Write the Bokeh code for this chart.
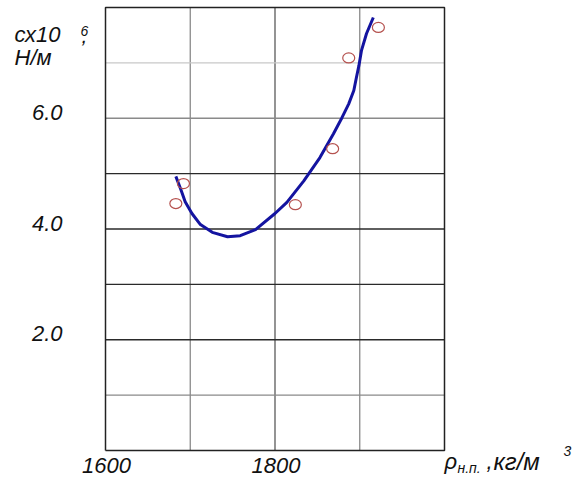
from bokeh.plotting import figure
from bokeh.models import Range1d
from bokeh.core.properties import value
from bokeh.embed import file_html
from bokeh.resources import INLINE

# ---- data ----
point_x = [1683, 1692, 1824, 1868, 1887, 1922]
point_y = [4.46, 4.82, 4.44, 5.45, 7.09, 7.64]

curve_x = [1683, 1689, 1694, 1702, 1712, 1726, 1744, 1759, 1777, 1800, 1814,
           1834, 1853, 1869, 1879, 1887, 1893, 1896, 1899, 1902, 1908, 1916]
curve_y = [4.95, 4.71, 4.49, 4.28, 4.08, 3.94, 3.86, 3.88, 3.99, 4.28, 4.48,
           4.87, 5.29, 5.72, 6.01, 6.26, 6.50, 6.73, 6.95, 7.22, 7.53, 7.82]

x_lim = [1600, 2000]
y_lim = [0, 8]
x_ticks = [1600, 1800]
x_tick_labels = ["1600", "1800"]
y_ticks = [2, 4, 6]
y_tick_labels = ["2.0", "4.0", "6.0"]

x_grid = [1700, 1800, 1900]
x_grid_colors = ["#8a8a8a", "#5a5a5a", "#8a8a8a"]
y_grid = [1, 2, 3, 4, 5, 6, 7]
y_grid_colors = ["#8a8a8a", "#2a2a2a", "#2a2a2a", "#2a2a2a", "#2a2a2a", "#8a8a8a", "#c8c8c8"]

FONT = value("Liberation Sans")
W, H = 572, 480

# the data box occupies px 105..444 horizontally and 7..450 vertically
kx = (444 - 105) / (x_lim[1] - x_lim[0])
ky = (450 - 7) / (y_lim[1] - y_lim[0])
xr = Range1d(x_lim[0] - 105 / kx, x_lim[1] + (W - 444) / kx)
yr = Range1d(y_lim[0] - (H - 450) / ky, y_lim[1] + 7 / ky)

p = figure(width=W, height=H, x_range=xr, y_range=yr,
           output_backend="svg", toolbar_location=None,
           min_border=0, min_border_left=0, min_border_right=0,
           min_border_top=0, min_border_bottom=0)
p.axis.visible = False
p.grid.visible = False
p.outline_line_color = None
p.background_fill_color = "white"
p.border_fill_color = "white"

# grid lines inside the data box
p.segment(x0=x_grid, x1=x_grid, y0=[y_lim[0]] * len(x_grid), y1=[y_lim[1]] * len(x_grid),
          line_color=x_grid_colors, line_width=1.3)
p.segment(x0=[x_lim[0]] * len(y_grid), x1=[x_lim[1]] * len(y_grid), y0=y_grid, y1=y_grid,
          line_color=y_grid_colors, line_width=1.3)

# frame of the data box
p.line(x=[x_lim[0], x_lim[1], x_lim[1], x_lim[0], x_lim[0]],
       y=[y_lim[0], y_lim[0], y_lim[1], y_lim[1], y_lim[0]],
       line_color="#222222", line_width=1.5)

# fitted curve
p.line(curve_x, curve_y, line_color="#1414a0", line_width=3, line_join="round")

# measured points (open ellipses)
p.ellipse(x=point_x, y=point_y, width=12, height=10,
          width_units="screen", height_units="screen",
          fill_color=None, line_color="#b5524f", line_width=1.2)

TXT = dict(text_font=FONT, text_font_style="italic", text_color="#111111")

# tick labels
p.text(x=x_ticks, y=[y_lim[0]] * len(x_ticks), text=x_tick_labels,
       x_offset=1, y_offset=15, text_align="center", text_baseline="alphabetic",
       text_font_size="22px", **TXT)
p.text(x=[x_lim[0]] * len(y_ticks), y=y_ticks, text=y_tick_labels,
       x_offset=-43, y_offset=-6, text_align="right", text_baseline="alphabetic",
       text_font_size="22px", **TXT)

# axis titles
def title(x, y, text, dx, dy, size):
    p.text(x=[x], y=[y], text=[text], x_offset=dx, y_offset=dy,
           text_align="left", text_baseline="alphabetic", text_font_size=size, **TXT)

title(x_lim[0], y_lim[1], "сх10", -91, 27, "22px")
title(x_lim[0], y_lim[1], "6", -25, 23, "14px")
title(x_lim[0], y_lim[1], ",", -24, 28, "21px")
title(x_lim[0], y_lim[1], "Н/м", -91, 50, "22px")

title(x_lim[1], y_lim[0], "ρ", 0, 11, "22px")
title(x_lim[1], y_lim[0], "н.п.", 13, 17, "14px")
title(x_lim[1], y_lim[0], ",", 42, 11, "22px")
title(x_lim[1], y_lim[0], "кг/м", 49, 11, "24px")
title(x_lim[1], y_lim[0], "3", 119, 0, "14px")

open("out.html", "w").write(file_html(p, INLINE))
